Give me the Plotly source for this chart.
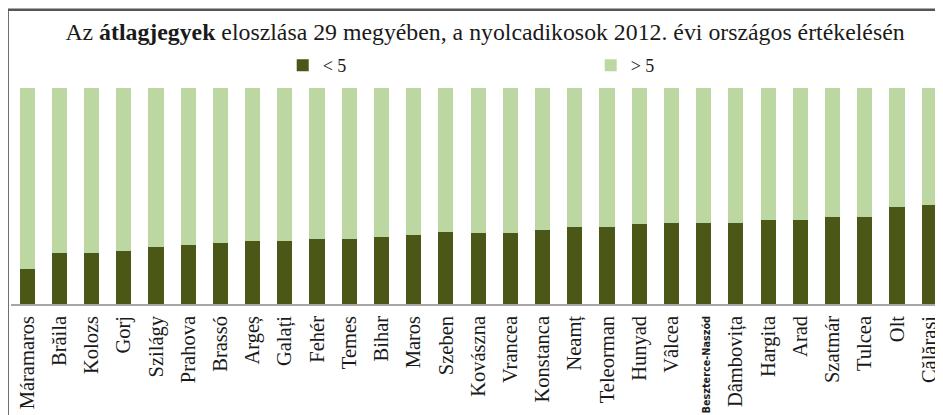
import plotly.graph_objects as go

counties = ["Máramaros", "Brăila", "Kolozs", "Gorj", "Szilágy", "Prahova", "Brassó", "Argeș",
            "Galați", "Fehér", "Temes", "Bihar", "Maros", "Szeben", "Kovászna", "Vrancea",
            "Konstanca", "Neamț", "Teleorman", "Hunyad", "Vâlcea", "Beszterce-Naszód",
            "Dâmbovița", "Hargita", "Arad", "Szatmár", "Tulcea", "Olt", "Călărași"]
below5 = [16.0, 23.8, 23.8, 24.6, 26.4, 27.5, 28.4, 29.3, 29.3, 30.3, 30.3, 31.2, 32.1, 33.2,
          33.1, 33.1, 34.1, 35.8, 35.8, 36.9, 37.6, 37.6, 37.6, 38.8, 38.8, 40.1, 40.1, 44.8, 45.8]
above5 = [round(100 - v, 1) for v in below5]

tick_text = [
    '<span style="font-family:DejaVu Sans Condensed;font-weight:bold;font-size:10.8px">'
    + c + '</span>'
    if c == "Beszterce-Naszód" else c
    for c in counties
]

# the page body has an 8px margin, so the figure is drawn 8px right and down
OFF = 8
PAGE_W, PAGE_H = 943, 415
W, H = PAGE_W - OFF, PAGE_H - OFF

# plot area in page pixels
P_LEFT, P_TOP, P_BOTTOM = 11.4, 87.5, 304
L = P_LEFT - OFF
T = P_TOP - OFF
B = PAGE_H - P_BOTTOM
R = 0
pw = W - L - R
ph = H - T - B

def px_x(px):
    return (px - OFF - L) / pw

def px_y(py):
    return (P_BOTTOM - py) / ph

fig = go.Figure()
fig.add_trace(go.Bar(x=counties, y=below5, name="< 5", marker=dict(color="#4b5716", line_width=0)))
fig.add_trace(go.Bar(x=counties, y=above5, name="> 5", marker=dict(color="#bdd7a3", line_width=0)))

fig.update_layout(
    width=W, height=H,
    barmode="stack",
    bargap=0.53,
    margin=dict(l=L, r=R, t=T, b=B, autoexpand=False),
    paper_bgcolor="white",
    plot_bgcolor="white",
    font=dict(family="Liberation Serif", color="#1a1a1a"),
    title=dict(
        text="Az <b>átlagjegyek</b> eloszlása 29 megyében, a nyolcadikosok 2012. évi országos értékelésén",
        x=(485 - OFF) / W, xanchor="center", xref="container",
        y=1 - (32 - OFF) / H, yanchor="middle", yref="container",
        font=dict(size=23.8, family="Liberation Serif", color="#1a1a1a"),
    ),
    legend=dict(
        orientation="h",
        x=px_x(283), xanchor="left",
        y=px_y(65), yanchor="middle",
        entrywidth=263, entrywidthmode="pixels",
        font=dict(size=18, family="Liberation Serif", color="#1a1a1a"),
        bgcolor="rgba(0,0,0,0)",
        traceorder="normal",
    ),
    xaxis=dict(
        type="category",
        range=[-0.5, 28.43],
        tickmode="array",
        tickvals=counties,
        ticktext=tick_text,
        tickangle=-90,
        tickfont=dict(size=20.5, family="Liberation Serif", color="#1a1a1a"),
        showline=True, linecolor="#a6a6a6", linewidth=1.5,
        ticks="", showgrid=False, zeroline=False,
        ticklabelstandoff=2,
    ),
    yaxis=dict(
        range=[0, 100],
        visible=False,
        showgrid=False, zeroline=False,
    ),
    shapes=[
        dict(type="line", xref="paper", yref="paper",
             x0=px_x(8), x1=px_x(8), y0=px_y(9), y1=px_y(430),
             line=dict(color="#555555", width=2.5)),
        dict(type="line", xref="paper", yref="paper",
             x0=px_x(8), x1=px_x(960), y0=px_y(9), y1=px_y(9),
             line=dict(color="#555555", width=2.5)),
    ],
)

fig.write_html("out.html")
